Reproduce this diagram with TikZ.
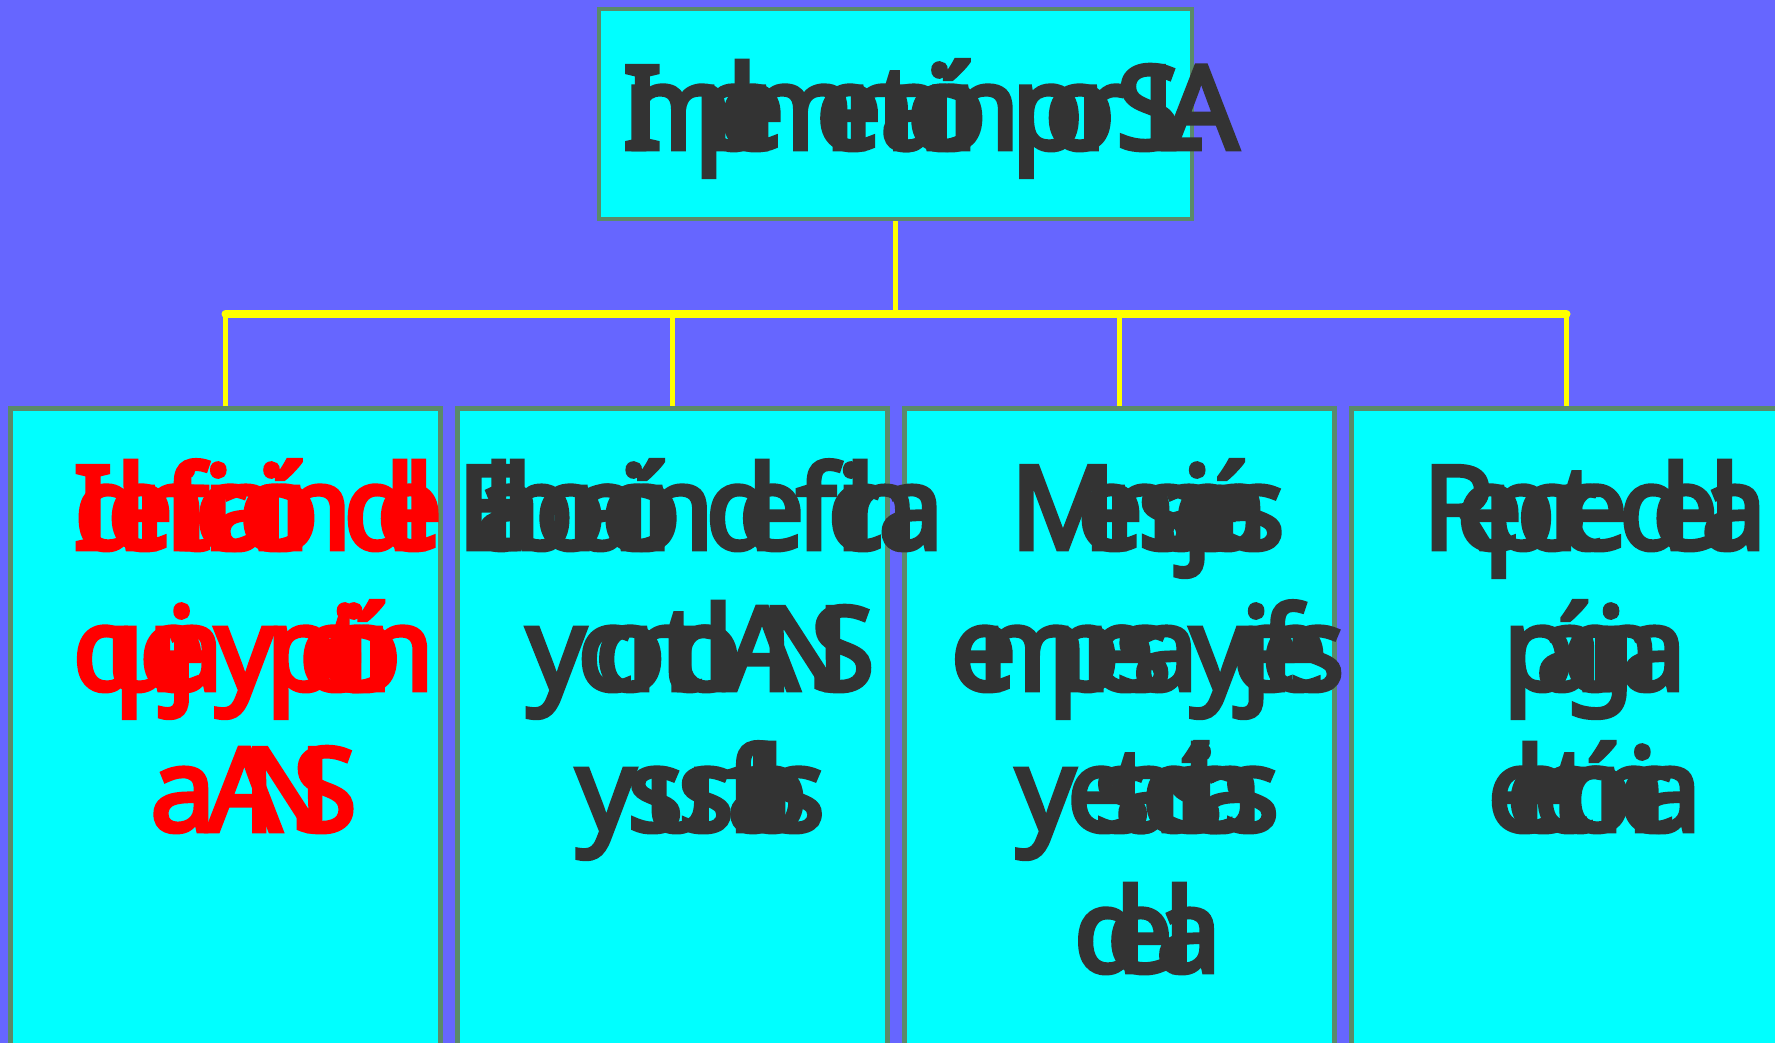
\documentclass[tikz,border=0pt]{standalone}
\usepackage{fontspec}
\usepackage{tikz}
\usetikzlibrary{positioning}
\newfontfamily\cardfont{Noto Sans}[LetterSpace=-33, FakeBold=4]
\definecolor{skyviolet}{HTML}{6666FF}
\definecolor{cardcyan}{HTML}{00FFFF}
\definecolor{edgegreen}{HTML}{5A8A6A}
\definecolor{linkyellow}{HTML}{FFFF00}
\definecolor{inkgray}{HTML}{333333}
\definecolor{alertred}{HTML}{FF0000}

\begin{document}
\begin{tikzpicture}[
    x=1pt, y=-1pt,
    card/.style={rectangle, draw=edgegreen, fill=cardcyan, line width=4.5pt,
                 minimum width=#1, inner sep=0pt},
    card/.default=430pt,
    cardtext/.style={font={\cardfont\fontsize{116}{141}\selectfont\lineskiplimit=-200pt},
                     text=inkgray, align=center, anchor=base, inner sep=0pt},
    link/.style={draw=linkyellow, line width=4.5pt},
    rail/.style={draw=linkyellow, line width=8pt, line cap=round}
]
\useasboundingbox (0,0) rectangle (1775,1043);
\clip (0,0) rectangle (1775,1043);
\fill[skyviolet] (0,0) rectangle (1775,1043);

% Top box
\node[card=593pt, minimum height=210pt] (head) at (895.5,114) {};
\node[cardtext] (headtxt) at ([xshift=35pt]head.center |- 0,149) {Implementación por SLA};

% Bottom boxes
\node[card, minimum height=700pt, anchor=north] (incid) at (225.5,406) {};
\node[card, minimum height=700pt, anchor=north] (report) at (672.5,406) {};
\node[card, minimum height=700pt, anchor=north] (mesg) at (1119.5,406) {};
\node[card, minimum height=700pt, anchor=north] (supp) at (1566.5,406) {};

% Texts (anchored on the baseline of the last line)
\node[cardtext, text=alertred] (incidtxt) at ([xshift=28pt,yshift=-425pt]incid.north) {Identificación del\\queja y petición\\a ANS};
\node[cardtext] (reporttxt) at ([xshift=28pt,yshift=-425pt]report.north) {Elaboración de ficha\\y control ANS\\y sus fallos};
\node[cardtext] (mesgtxt) at ([xshift=28pt,yshift=-566pt]mesg.north) {Mensajerías\\empresa y jefes\\y estadísticas\\de la};
\node[cardtext] (supptxt) at ([xshift=28pt,yshift=-425pt]supp.north) {Reporte de la\\página\\electrónica};

% Connections
\coordinate (hub) at (head.south |- 0,314);
\draw[link] (head.south) -- (hub);
\draw[rail] (incid.north |- hub) -- (supp.north |- hub);
\draw[link] (incid.north |- hub) -- (incid.north);
\draw[link] (report.north |- hub) -- (report.north);
\draw[link] (mesg.north |- hub) -- (mesg.north);
\draw[link] (supp.north |- hub) -- (supp.north);

\end{tikzpicture}
\end{document}
